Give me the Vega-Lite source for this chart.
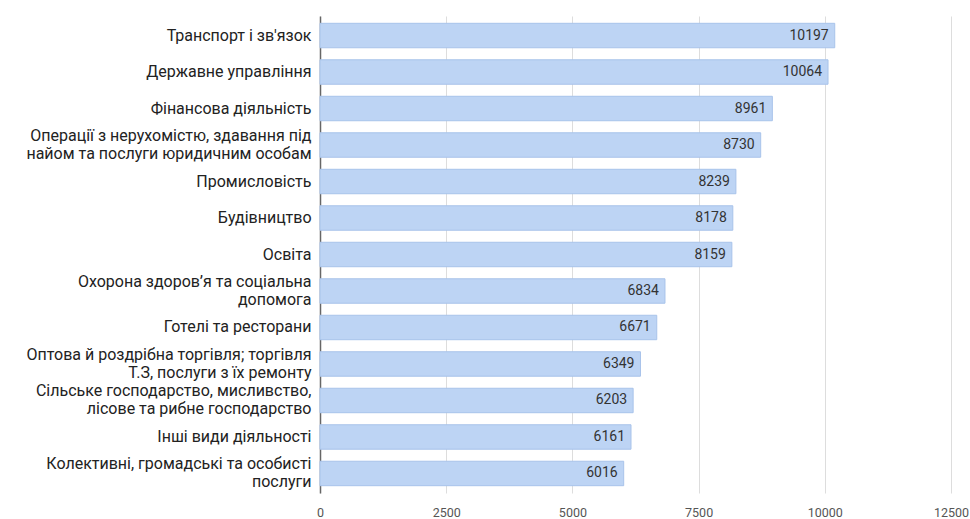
{
  "$schema": "https://vega.github.io/schema/vega-lite/v6.json",
  "width": 631,
  "height": 477,
  "autosize": {"type": "none"},
  "padding": {"left": 320, "top": 16, "right": 19, "bottom": 26},
  "background": "white",
  "data": {
    "values": [
      {"category": "Транспорт і зв'язок", "value": 10197},
      {"category": "Державне управління", "value": 10064},
      {"category": "Фінансова діяльність", "value": 8961},
      {"category": "Операції з нерухомістю, здавання під\nнайом та послуги юридичним особам", "value": 8730},
      {"category": "Промисловість", "value": 8239},
      {"category": "Будівництво", "value": 8178},
      {"category": "Освіта", "value": 8159},
      {"category": "Охорона здоров’я та соціальна\nдопомога", "value": 6834},
      {"category": "Готелі та ресторани", "value": 6671},
      {"category": "Оптова й роздрібна торгівля; торгівля\nТ.З, послуги з їх ремонту", "value": 6349},
      {"category": "Сільське господарство, мисливство,\nлісове та рибне господарство", "value": 6203},
      {"category": "Інші види діяльності", "value": 6161},
      {"category": "Колективні, громадські та особисті\nпослуги", "value": 6016}
    ]
  },
  "encoding": {
    "y": {
      "field": "category",
      "type": "nominal",
      "sort": "-x",
      "scale": {"paddingInner": 0.33, "paddingOuter": 0.2},
      "axis": {
        "title": null,
        "labelExpr": "split(datum.value, '\\n')",
        "labelFont": "Roboto",
        "labelFontSize": 16,
        "labelColor": "#222222",
        "labelLineHeight": 18,
        "labelPadding": 9,
        "labelLimit": 400,
        "labelOffset": {"condition": {"test": "indexof(datum.value, '\\n') >= 0", "value": -9}, "value": 0},
        "ticks": false,
        "domain": true,
        "domainColor": "#666666",
        "domainWidth": 1.5
      }
    },
    "x": {
      "field": "value",
      "type": "quantitative",
      "scale": {"domain": [0, 12500]},
      "axis": {
        "title": null,
        "values": [0, 2500, 5000, 7500, 10000, 12500],
        "format": "d",
        "labelFont": "Roboto",
        "labelFontSize": 12.5,
        "labelColor": "#555555",
        "labelPadding": 13,
        "ticks": false,
        "domain": false,
        "grid": true,
        "gridColor": "#dddddd",
        "labelFlush": false
      }
    }
  },
  "layer": [
    {
      "mark": {"type": "bar", "fill": "#bdd4f4", "stroke": "#a8c3ea", "strokeWidth": 1}
    },
    {
      "mark": {"type": "text", "align": "right", "dx": -6, "font": "Roboto", "fontSize": 14, "color": "#333333"},
      "encoding": {"text": {"field": "value", "type": "quantitative", "format": "d"}}
    }
  ],
  "config": {"view": {"stroke": null}}
}
